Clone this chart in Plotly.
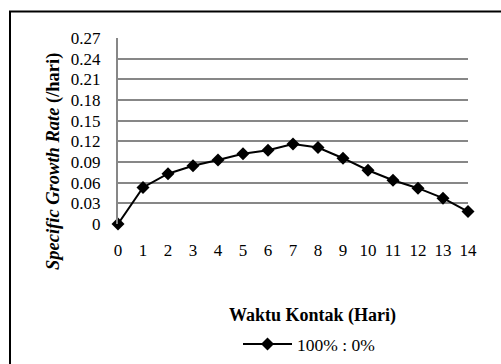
import plotly.graph_objects as go

days = list(range(0, 15))
growth_rate = [0.0, 0.053, 0.073, 0.0845, 0.093, 0.102, 0.107, 0.116, 0.111, 0.0955,
               0.078, 0.0635, 0.052, 0.0375, 0.018]
series_name = "100% : 0%"
x_title = "Waktu Kontak (Hari)"
y_title = "<b><i>Specific Growth Rate</i> (/hari)</b>"
y_ticks = [0, 0.03, 0.06, 0.09, 0.12, 0.15, 0.18, 0.21, 0.24, 0.27]
y_ticktext = ["0", "0.03", "0.06", "0.09", "0.12", "0.15", "0.18", "0.21", "0.24", "0.27"]

FONT = "Liberation Serif, Times New Roman, serif"
GRID = "#878787"

fig = go.Figure()
fig.add_trace(go.Scatter(
    x=days, y=growth_rate, mode="lines+markers", name=series_name,
    line=dict(color="black", width=2),
    marker=dict(symbol="diamond", size=10, color="black"),
    cliponaxis=False,
))

L, T, PW, PH = 118, 38, 350, 186
def px(x):
    return (x - L) / PW
def py(y):
    return (T + PH - y) / PH

fig.update_layout(
    width=501, height=364,
    margin=dict(l=L, r=501 - L - PW, t=T, b=364 - T - PH, autoexpand=False),
    paper_bgcolor="white", plot_bgcolor="white",
    font=dict(family=FONT, size=17, color="black"),
    showlegend=True,
    legend=dict(x=px(238), y=py(344), xanchor="left", yanchor="middle",
                itemwidth=49,
                font=dict(family=FONT, size=17.5), bgcolor="rgba(0,0,0,0)"),
    xaxis=dict(range=[0, 14], tickmode="array", tickvals=days,
               ticktext=[str(d) for d in days],
               showgrid=False, zeroline=False, showline=False,
               ticks="", ticklabelstandoff=14,
               tickfont=dict(family=FONT, size=17)),
    yaxis=dict(range=[0, 0.27], tickmode="array", tickvals=y_ticks, ticktext=y_ticktext,
               showgrid=True, gridcolor=GRID, gridwidth=2,
               zeroline=False, showline=True, linecolor=GRID, linewidth=2,
               ticks="", ticklabelstandoff=12,
               tickfont=dict(family=FONT, size=17)),
    annotations=[
        dict(text="<b>" + x_title + "</b>", xref="paper", yref="paper",
             x=px(312.5), y=py(315), showarrow=False, xanchor="center", yanchor="middle",
             font=dict(family=FONT, size=18)),
        dict(text=y_title, xref="paper", yref="paper", textangle=-90,
             x=px(53), y=py(162), showarrow=False, xanchor="center", yanchor="middle",
             font=dict(family=FONT, size=18.5)),
    ],
    shapes=[
        dict(type="line", xref="paper", yref="paper", x0=px(10), x1=px(10),
             y0=py(11), y1=py(380), line=dict(color="black", width=2)),
        dict(type="line", xref="paper", yref="paper", x0=px(9), x1=px(520),
             y0=py(11.5), y1=py(11.5), line=dict(color="black", width=2)),
    ],
)

fig.write_html("out.html", config={"displayModeBar": False},
               post_script="document.body.style.margin='0';document.body.style.overflow='hidden';")
